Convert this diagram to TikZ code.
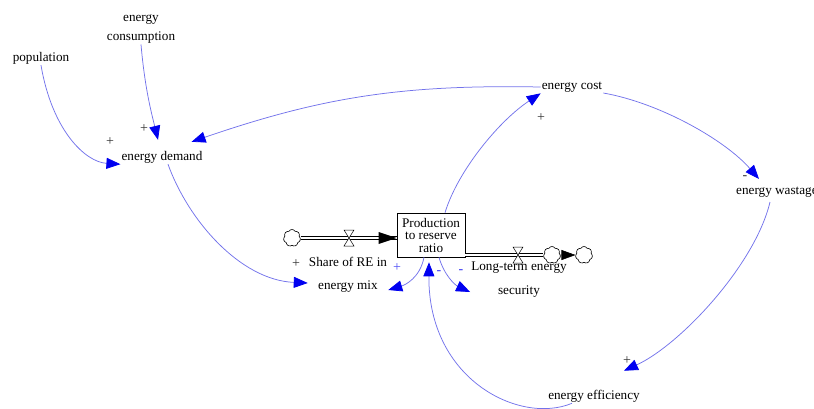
\documentclass[tikz,border=0pt]{standalone}
\usepackage{fontspec}
\setmainfont{Liberation Serif}
\usetikzlibrary{arrows.meta,shapes.symbols}
\definecolor{linkblue}{RGB}{115,115,235}
\definecolor{arrowblue}{RGB}{0,0,240}
\begin{document}
\begin{tikzpicture}[x=1pt,y=-1pt,
  lbl/.style={font=\fontsize{13.2}{13}\selectfont, inner sep=1pt, align=center, text=black},
  link/.style={draw=linkblue, line width=0.75pt, -{Triangle[length=14pt,width=11pt,color=arrowblue]}},
  pol/.style={font=\fontsize{14}{14}\selectfont, inner sep=0pt, text=black!80},
  cloudn/.style={cloud, cloud puffs=7, cloud puff arc=120, draw, fill=white, minimum width=17pt, minimum height=17pt, inner sep=0pt, line width=0.6pt, aspect=1},
  pipe/.style={draw=black, double=white, double distance=2.6pt, line width=0.6pt},
  valve/.pic={\draw[fill=white, line width=0.5pt] (-5,-8) -- (5,-8) -- (-5,8) -- (5,8) -- cycle;}
]
\useasboundingbox (0,0) rectangle (814,408);
\clip (0,0) rectangle (814,408);

% variables
\node[lbl] (pop) at (41,58) {population};
\node[lbl, font=\fontsize{13.2}{19}\selectfont] (cons) at (141,29) {energy\\consumption};
\node[lbl] (dem) at (162,157) {energy demand};
\node[lbl] (cost) at (572,87) {energy cost};
\node[lbl, anchor=west] (waste) at (735,192) {energy wastage};
\node[lbl] (eff) at (594,396) {energy efficiency};
\node[lbl, font=\fontsize{13.2}{23}\selectfont] (share) at (348,275) {Share of RE in\\energy mix};
\node[lbl, font=\fontsize{13.2}{24}\selectfont] (lts) at (519,280) {Long-term energy\\security};

% stock
\node[draw, lbl, font=\fontsize{13.2}{12.5}\selectfont, minimum width=68pt, minimum height=44pt, line width=0.6pt, inner sep=0pt] (prod) at (431,235) {Production\\to reserve\\ratio};

% clouds
\node[cloudn] (cl1) at (292,238) {};
\node[cloudn] (cl2) at (552,255) {};
\node[cloudn] (cl3) at (584,255) {};

% flows
\draw[pipe] (cl1.east) -- (prod.west |- cl1.east);
\fill[black] (prod.west |- cl1.east) -- ++(-18,-6) -- ++(0,12) -- cycle;
\pic at (349,238) {valve};
\draw[pipe] (prod.east |- cl2.west) -- (cl2.west);
\pic at (518,255) {valve};
\draw[line width=0.6pt, -{Triangle[length=14pt,width=10pt]}] (cl2.east) -- (cl3.west);

% links
\draw[link] (pop.south) .. controls (52,130) and (85,162) .. (dem.south west);
\draw[link] (cons.south) .. controls (145,90) and (152,115) .. ([xshift=-4pt,yshift=10pt]dem.north);
\draw[link] (cost.west) to[bend right=10] ([xshift=-12pt,yshift=8pt]dem.north east);
\draw[link] ([xshift=6pt]dem.south) .. controls (188,220) and (240,280) .. ([yshift=-8pt]share.west);
\draw[link] ([xshift=14pt]prod.north) .. controls (458,170) and (500,120) .. (cost.south west);
\draw[link] ([yshift=-6pt]cost.east) .. controls (660,103) and (725,140) .. ([xshift=24pt,yshift=13pt]waste.west);
\draw[link] ([xshift=35pt,yshift=-10pt]waste.west) .. controls (755,265) and (680,345) .. ([xshift=30pt,yshift=18pt]eff.north);
\draw[link] ([xshift=-22pt]eff.south) .. controls (520,425) and (428,380) .. ([xshift=-2pt,yshift=-5pt]prod.south);
\draw[link] ([xshift=-7pt]prod.south) .. controls (420,278) and (405,285) .. ([yshift=-15pt]share.east);
\draw[link] ([xshift=8pt]prod.south) .. controls (444,275) and (455,285) .. ([yshift=-12pt]lts.west);

% polarities
\node[pol] (p1) at (110,142) {+};
\node[pol] (p2) at (144,129) {+};
\node[pol] (p3) at (296,264) {+};
\node[pol] (p4) at (541,118) {+};
\node[pol] (p5) at (745,178) {-};
\node[pol] (p6) at (627,361) {+};
\node[pol, text=arrowblue!70] (p7) at (397,268) {+};
\node[pol, text=arrowblue!80] (p8) at (439,273) {-};
\node[pol, text=arrowblue!80] (p9) at (461,272) {-};
\end{tikzpicture}
\end{document}
